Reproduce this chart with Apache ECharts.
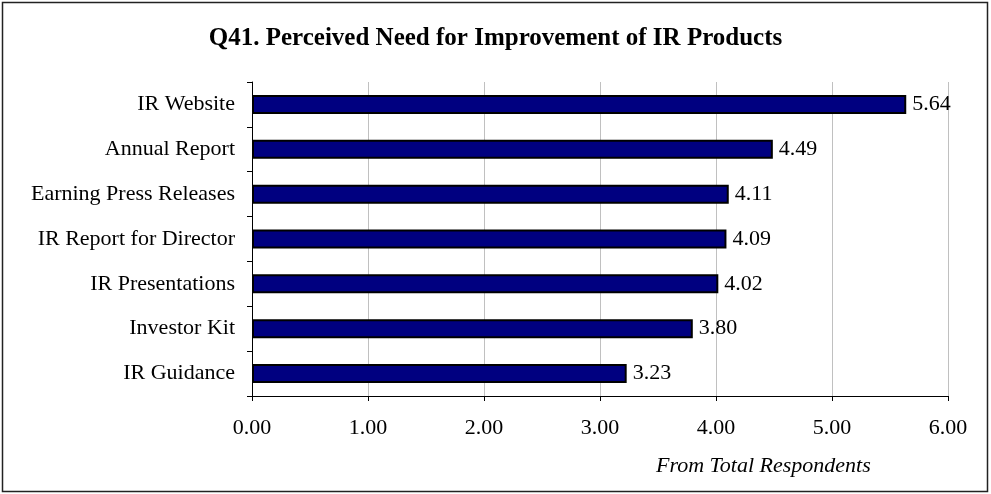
<!DOCTYPE html>
<html>
<head>
<meta charset="utf-8">
<script src="https://cdn.jsdelivr.net/npm/echarts@6/dist/echarts.min.js"></script>
<style>
  html, body { margin: 0; padding: 0; background: #fff; }
  #chart { width: 991px; height: 494px; }
</style>
</head>
<body>
<div id="chart"></div>
<script>
// Survey items, listed bottom to top as the category axis draws them
const categories = [
  'IR Guidance',
  'Investor Kit',
  'IR Presentations',
  'IR Report for Director',
  'Earning Press Releases',
  'Annual Report',
  'IR Website'
];
const scores = [3.23, 3.80, 4.02, 4.09, 4.11, 4.49, 5.64];
const xTicks = { min: 0, max: 6, interval: 1 };

const serif = '"Liberation Serif", "Times New Roman", serif';

const chart = echarts.init(document.getElementById('chart'), null, { renderer: 'canvas' });
chart.setOption({
  animation: false,
  backgroundColor: '#fff',
  title: {
    text: 'Q41. Perceived Need for Improvement of IR Products',
    left: 'center',
    top: 21,
    textStyle: { fontFamily: serif, fontSize: 25, fontWeight: 'bold', color: '#000' }
  },
  graphic: [
    {
      type: 'rect',
      shape: { x: 2.5, y: 2.5, width: 985, height: 489 },
      style: { fill: 'none', stroke: '#222', lineWidth: 1.5 },
      silent: true
    },
    {
      type: 'text',
      left: 656,
      top: 455,
      style: {
        text: 'From Total Respondents',
        font: 'italic 22px ' + serif,
        fill: '#000'
      }
    }
  ],
  grid: { left: 252, right: 43, top: 82, bottom: 98, containLabel: false },
  xAxis: {
    type: 'value',
    min: xTicks.min,
    max: xTicks.max,
    interval: xTicks.interval,
    axisLine: { show: true, lineStyle: { color: '#000', width: 1 } },
    axisTick: { show: true, length: 5, lineStyle: { color: '#000' } },
    axisLabel: {
      formatter: v => v.toFixed(2),
      fontFamily: serif,
      fontSize: 22,
      color: '#000',
      margin: 21
    },
    splitLine: { show: true, lineStyle: { color: '#c0c0c0', width: 1 } }
  },
  yAxis: {
    type: 'category',
    data: categories,
    axisLine: { show: true, lineStyle: { color: '#000', width: 1 } },
    axisTick: { show: true, length: 5, lineStyle: { color: '#000' } },
    axisLabel: {
      fontFamily: serif,
      fontSize: 22,
      color: '#000',
      margin: 17
    },
    splitLine: { show: false }
  },
  series: [{
    type: 'bar',
    data: scores,
    barWidth: 19,
    itemStyle: { color: '#000080', borderColor: '#000', borderWidth: 2 },
    label: {
      show: true,
      position: 'right',
      distance: 6,
      formatter: p => p.value.toFixed(2),
      fontFamily: serif,
      fontSize: 22,
      color: '#000'
    }
  }]
});
</script>
</body>
</html>
